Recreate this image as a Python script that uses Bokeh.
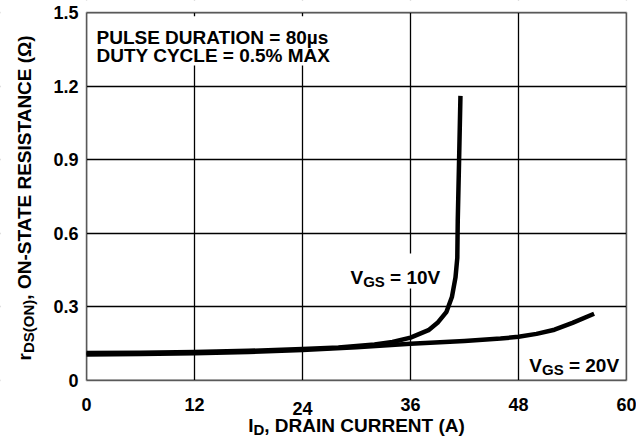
import math
from bokeh.plotting import figure
from bokeh.models import Range1d, FixedTicker, Label, BoxAnnotation
from bokeh.embed import file_html
from bokeh.resources import INLINE

# ---- data ----
id_10v = [0, 6, 12, 18, 24, 28, 32, 34, 36, 38, 39, 40, 40.6, 41.0, 41.2, 41.25, 41.4, 41.55]
r_10v = [0.112, 0.113, 0.116, 0.121, 0.128, 0.135, 0.147, 0.157, 0.175, 0.205, 0.235, 0.28, 0.34, 0.42, 0.5, 0.65, 0.9, 1.16]

id_20v = [0, 6, 12, 18, 24, 30, 36, 42, 46, 48, 50, 52, 54, 56.4]
r_20v = [0.106, 0.108, 0.111, 0.116, 0.124, 0.136, 0.15, 0.161, 0.171, 0.178, 0.19, 0.207, 0.235, 0.272]

x_ticks = [0, 12, 24, 36, 48, 60]
x_tick_labels = ["0", "12", "24", "36", "48", "60"]
y_ticks = [0, 0.3, 0.6, 0.9, 1.2, 1.5]
y_tick_labels = ["0", "0.3", "0.6", "0.9", "1.2", "1.5"]

FONT = "Liberation Sans"
TICK = 18
MAIN = 19
SUB = 15
SPACE = 0.278 * MAIN

# ---- layout: the frame fills the canvas, the chart area is mapped inside it ----
W, H = 636, 446
PL, PR, PT, PB = 86, 626, 12, 380          # chart area in pixels
XMIN, XMAX, YMIN, YMAX = 0, 60, 0, 1.5
sx = (PR - PL) / (XMAX - XMIN)
sy = (PB - PT) / (YMAX - YMIN)
xr = Range1d(XMIN - PL / sx, XMAX + (W - PR) / sx)
yr = Range1d(YMIN - (H - PB) / sy, YMAX + PT / sy)

p = figure(width=W, height=H, output_backend="svg", toolbar_location=None,
           x_range=xr, y_range=yr, min_border=0)
p.title.visible = False
p.background_fill_color = "white"
p.border_fill_color = "white"
p.outline_line_color = None

for ax in (p.xaxis[0], p.yaxis[0]):
    ax.fixed_location = 0
    ax.major_tick_in = 0
    ax.major_tick_out = 0
    ax.minor_tick_in = 0
    ax.minor_tick_out = 0
    ax.axis_line_color = None
    ax.major_label_text_font = FONT
    ax.major_label_text_font_style = "bold"
    ax.major_label_text_font_size = f"{TICK}px"
    ax.major_label_text_color = "black"

p.xaxis.bounds = (XMIN, XMAX)
p.yaxis.bounds = (YMIN, YMAX)
p.xaxis.ticker = FixedTicker(ticks=x_ticks)
xo = dict(zip(x_ticks, x_tick_labels))
xo[24] = ""  # drawn separately (slightly lower in the reference)
p.xaxis.major_label_overrides = xo
p.xaxis.major_label_standoff = 17
p.yaxis.ticker = FixedTicker(ticks=y_ticks)
p.yaxis.major_label_overrides = dict(zip(y_ticks, y_tick_labels))
p.yaxis.major_label_standoff = 8

p.xgrid.ticker = FixedTicker(ticks=x_ticks)
p.ygrid.ticker = FixedTicker(ticks=y_ticks)
for g in (p.xgrid[0], p.ygrid[0]):
    g.grid_line_color = "black"
    g.grid_line_width = 1.3
    g.grid_line_alpha = 1


def mask(**kw):
    p.add_layout(BoxAnnotation(fill_color="white", fill_alpha=1, line_color=None,
                               level="underlay", **kw))


# hide grid outside the chart area
mask(left=-50, right=XMIN, bottom=-5, top=5)
mask(left=XMAX, right=150, bottom=-5, top=5)
mask(left=-50, right=150, bottom=-5, top=YMIN)
mask(left=-50, right=150, bottom=YMAX, top=5)
# white backgrounds behind the notes (hide grid lines)
mask(left=0.2, right=27.0, bottom=1.284, top=1.485)
mask(left=28.6, right=39.8, bottom=0.375, top=0.518)

# curves
p.line(id_20v, r_20v, line_color="black", line_width=4.5, line_join="round")
p.line(id_10v, r_10v, line_color="black", line_width=4.5, line_join="round")

# chart frame
p.add_layout(BoxAnnotation(left=XMIN, right=XMAX, bottom=YMIN, top=YMAX,
                           fill_alpha=0, line_color="black", line_width=2))


def lab(text, x, y, xo=0, yo=0, size=MAIN, angle=0, align="left", baseline="alphabetic"):
    p.add_layout(Label(x=x, y=y, x_offset=xo, y_offset=yo, text=text, angle=angle,
                       text_font=FONT, text_font_style="bold", text_font_size=f"{size}px",
                       text_color="black", text_align=align, text_baseline=baseline))


# "24" tick label (lower than the others in the reference)
lab(x_tick_labels[2], 24, 0, 0, -21, size=TICK, align="center", baseline="top")

# note box
lab("PULSE DURATION = 80\u00b5s", 0, 1.5, 10, -25)
lab("DUTY CYCLE = 0.5% MAX", 0, 1.5, 10, -43)

# curve labels: V + GS(sub) + " = ..V"
w_v = 0.667 * MAIN
w_gs = 1.445 * SUB


def vgs(x, y, rest):
    lab("V", x, y, 0, 0)
    lab("GS", x, y, w_v, -4, size=SUB)
    lab(rest, x, y, w_v + w_gs + SPACE, 0)


vgs(29.33, 0.42, "= 10V")
vgs(49.2, 0.061, "= 20V")

# x axis title: I + D(sub) + rest, centred on the chart area
w_I = 0.278 * MAIN
w_D = 0.722 * SUB
w_rest = 10.554 * MAIN
tot = w_I + w_D + w_rest
x0 = -tot / 2
XT = -45
lab("I", 30, 0, x0, XT)
lab("D", 30, 0, x0 + w_I, XT - 4, size=SUB)
lab(", DRAIN CURRENT (A)", 30, 0, x0 + w_I + w_D, XT)

# y axis title (rotated): r + DS(ON)(sub) + rest
w_r = 0.389 * MAIN
w_ds = 3.555 * SUB
w_yr = 14.162 * MAIN
ytot = w_r + w_ds + w_yr
y0 = 1 - ytot / 2
xb = -62
ang = math.pi / 2
lab("r", 0, 0.75, xb, y0, angle=ang)
lab("DS(ON)", 0, 0.75, xb + 4, y0 + w_r, size=SUB, angle=ang)
lab(", ON-STATE RESISTANCE (\u03a9)", 0, 0.75, xb, y0 + w_r + w_ds, angle=ang)

open("out.html", "w").write(file_html(p, INLINE))
